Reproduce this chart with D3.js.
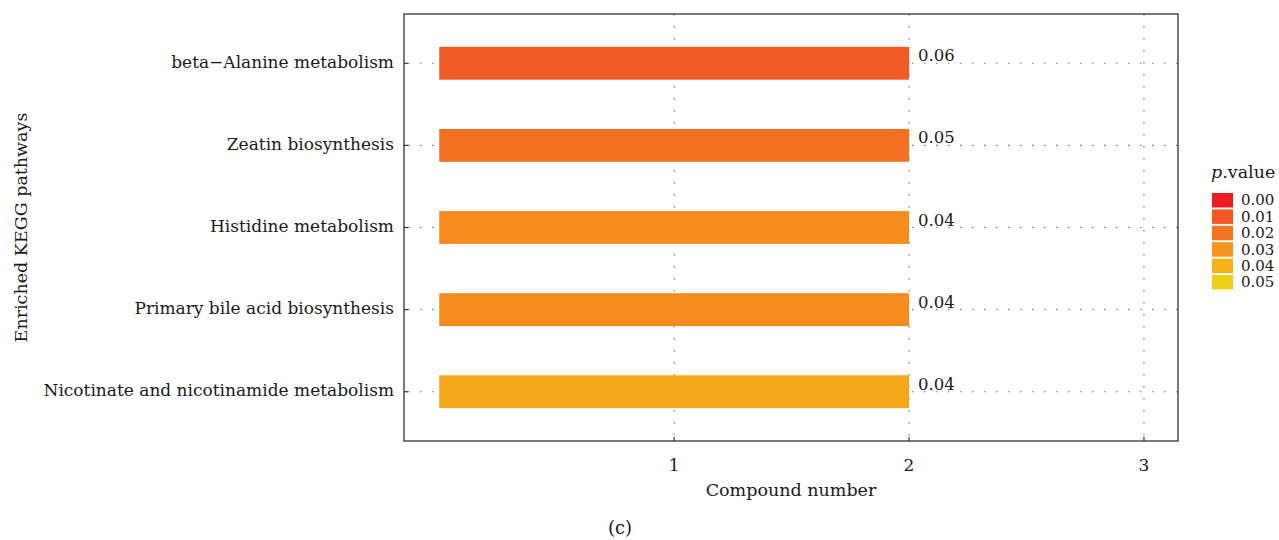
<!DOCTYPE html>
<html>
<head>
<meta charset="utf-8">
<script src="https://cdn.jsdelivr.net/npm/d3@7"></script>
<style>
  body { margin: 0; background: #fff; }
  text { font-family: "DejaVu Serif", "Liberation Serif", serif; fill: #1a1a1a; }
</style>
</head>
<body>
<div id="chart"></div>
<script>
// data
const pathways = [
    'beta\u2212Alanine metabolism',
    'Zeatin biosynthesis',
    'Histidine metabolism',
    'Primary bile acid biosynthesis',
    'Nicotinate and nicotinamide metabolism'
];
const compoundCounts = [2, 2, 2, 2, 2];
const pLabels = ['0.06', '0.05', '0.04', '0.04', '0.04'];
// value on the colour legend that each bar's fill corresponds to
const fillValues = [0.01, 0.018, 0.027, 0.027, 0.036];
const xTicks = [1, 2, 3];
const legendTicks = [0.00, 0.01, 0.02, 0.03, 0.04, 0.05];
const legendColors = ['#ed1c24', '#f15a24', '#f47521', '#f7941d', '#f4b31a', '#edd01a'];

const width = 1279, height = 540;
const margin = { top: 14, right: 101, bottom: 99, left: 404 };
const iw = width - margin.left - margin.right;
const ih = height - margin.top - margin.bottom;

const svg = d3.select('#chart').append('svg')
    .attr('width', width)
    .attr('height', height);

const g = svg.append('g').attr('transform', `translate(${margin.left},${margin.top})`);

const x = d3.scaleLinear().domain([-0.15, 3.145]).range([0, iw]);
// ggplot-like discrete expansion: 0.6 units each side
const y = d3.scaleLinear().domain([-0.6, pathways.length - 1 + 0.6]).range([0, ih]);
const barH = y(0.4) - y(0);
const color = d3.scaleLinear().domain(legendTicks).range(legendColors);

const gridDash = '1.5,10.5';

// vertical grid
g.selectAll('.vgrid').data(xTicks).join('line')
    .attr('x1', d => x(d)).attr('x2', d => x(d))
    .attr('y1', 0).attr('y2', ih)
    .attr('stroke', '#777').attr('stroke-width', 1.2)
    .attr('stroke-dasharray', gridDash);

// horizontal grid
g.selectAll('.hgrid').data(pathways).join('line')
    .attr('x1', 0).attr('x2', iw)
    .attr('y1', (d, i) => y(i)).attr('y2', (d, i) => y(i))
    .attr('stroke', '#777').attr('stroke-width', 1.2)
    .attr('stroke-dasharray', gridDash)
    .attr('stroke-dashoffset', -4);

// bars
g.selectAll('.bar').data(compoundCounts).join('rect')
    .attr('x', x(0))
    .attr('y', (d, i) => y(i) - barH / 2)
    .attr('width', d => x(d) - x(0))
    .attr('height', barH)
    .attr('fill', (d, i) => color(fillValues[i]));

// bar labels
g.selectAll('.blabel').data(compoundCounts).join('text')
    .attr('x', d => x(d) + 9)
    .attr('y', (d, i) => y(i) - 2)
    .style('font-size', '16.5px')
    .text((d, i) => pLabels[i]);

// panel border
g.append('rect')
    .attr('x', 0).attr('y', 0).attr('width', iw).attr('height', ih)
    .attr('fill', 'none').attr('stroke', '#333').attr('stroke-width', 1.3);

// ticks (inside)
g.selectAll('.xtick').data(xTicks).join('line')
    .attr('x1', d => x(d)).attr('x2', d => x(d))
    .attr('y1', ih).attr('y2', ih - 4)
    .attr('stroke', '#333').attr('stroke-width', 1.2);
g.selectAll('.ytick').data(pathways).join('line')
    .attr('x1', 0).attr('x2', 4)
    .attr('y1', (d, i) => y(i)).attr('y2', (d, i) => y(i))
    .attr('stroke', '#333').attr('stroke-width', 1.2);

// tick labels
g.selectAll('.xlab').data(xTicks).join('text')
    .attr('x', d => x(d))
    .attr('y', ih + 30)
    .attr('text-anchor', 'middle')
    .style('font-size', '17px')
    .text(d => d);
g.selectAll('.ylab').data(pathways).join('text')
    .attr('x', -10)
    .attr('y', (d, i) => y(i))
    .attr('dy', '0.28em')
    .attr('text-anchor', 'end')
    .style('font-size', '17px')
    .text(d => d);

// axis titles
svg.append('text')
    .attr('x', margin.left + iw / 2)
    .attr('y', 496)
    .attr('text-anchor', 'middle')
    .style('font-size', '17.5px')
    .text('Compound number');
svg.append('text')
    .attr('transform', `translate(27,${margin.top + ih / 2}) rotate(-90)`)
    .attr('text-anchor', 'middle')
    .style('font-size', '17.5px')
    .text('Enriched KEGG pathways');
svg.append('text')
    .attr('x', 620)
    .attr('y', 534)
    .attr('text-anchor', 'middle')
    .style('font-size', '18px')
    .text('(c)');

// legend
const lg = svg.append('g').attr('transform', 'translate(1212,0)');
const title = lg.append('text').attr('x', -1).attr('y', 178).style('font-size', '17.5px');
title.append('tspan').style('font-style', 'italic').text('p');
title.append('tspan').text('.value');
const step = 16.4;
lg.selectAll('.sw').data(legendTicks).join('rect')
    .attr('x', 0)
    .attr('y', (d, i) => 193 + i * step)
    .attr('width', 21)
    .attr('height', 14.5)
    .attr('fill', d => color(d));
lg.selectAll('.swl').data(legendTicks).join('text')
    .attr('x', 29)
    .attr('y', (d, i) => 200 + i * step)
    .attr('dy', '0.36em')
    .style('font-size', '15px')
    .text(d => d3.format('.2f')(d));
</script>
</body>
</html>
